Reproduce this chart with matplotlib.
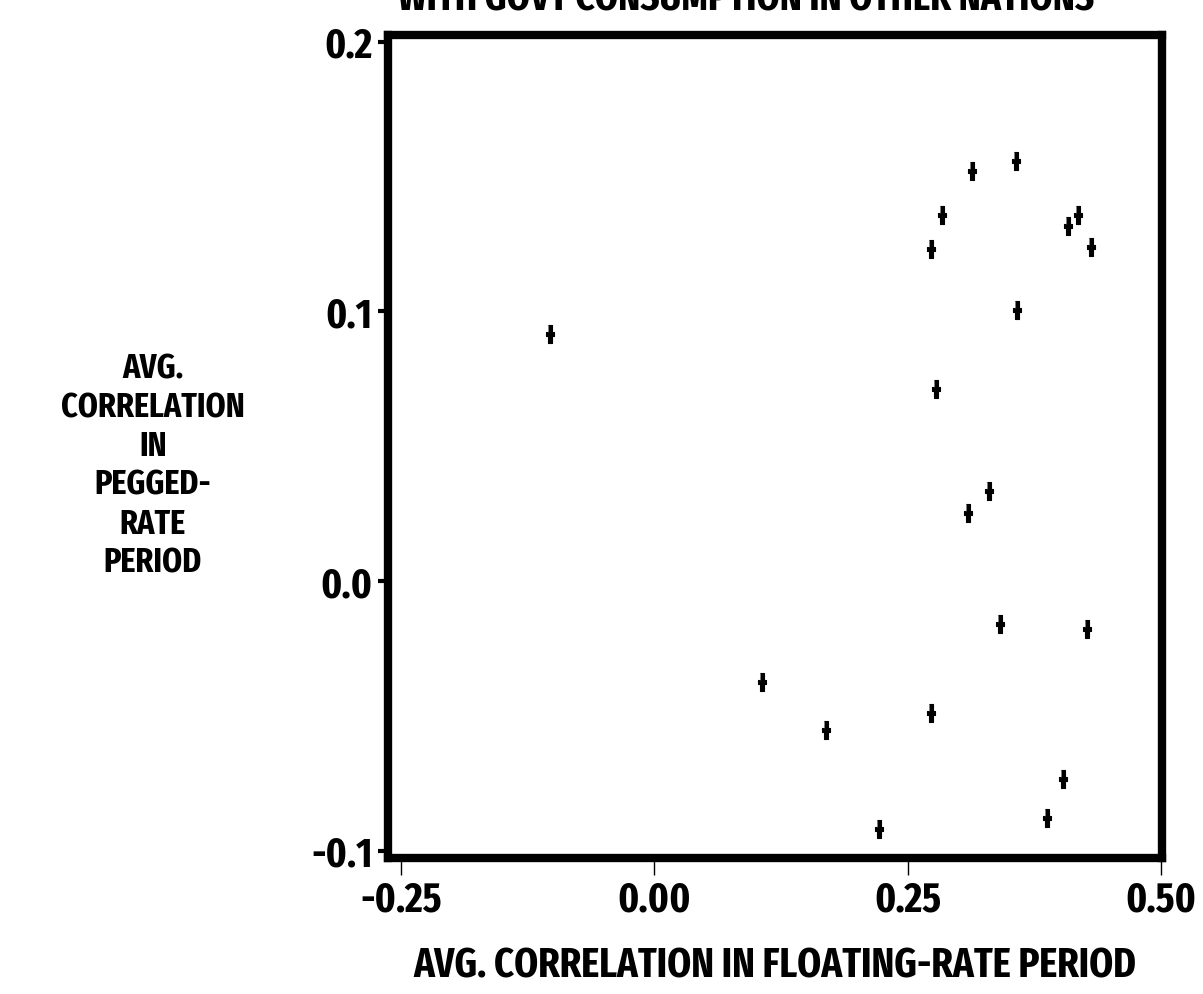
import numpy as np
import matplotlib
matplotlib.use("Agg")
import matplotlib.pyplot as plt

# Average correlations
float_corr = [-0.103, 0.106, 0.169, 0.222, 0.273, 0.273, 0.278, 0.284, 0.309, 0.313,
              0.330, 0.341, 0.357, 0.358, 0.387, 0.403, 0.408, 0.418, 0.427, 0.431]
pegged_corr = [0.0915, -0.0374, -0.0552, -0.0919, -0.0489, 0.1233, 0.0711, 0.1356, 0.0252, 0.1519,
               0.0333, -0.0159, 0.1556, 0.1004, -0.0878, -0.0733, 0.1315, 0.1359, -0.0178, 0.1237]

x_ticks = [-0.25, 0.0, 0.25, 0.50]
x_ticklabels = ['-0.25', '0.00', '0.25', '0.50']
y_ticks = [-0.1, 0.0, 0.1, 0.2]
y_ticklabels = ['-0.1', '0.0', '0.1', '0.2']

# narrow, heavy lettering like the old plotter font
font = ['Fira Sans Extra Condensed', 'DejaVu Sans']
plt.rcParams['font.family'] = font
plt.rcParams['font.weight'] = 'bold'
plt.rcParams['axes.labelweight'] = 'bold'

fig = plt.figure(figsize=(12.03, 9.94), dpi=100)
ax = fig.add_axes([0.3225, 0.137, 0.6435, 0.828])

# Tall plus-shaped marker like the plotter's glyph
w, h, t = 0.5, 1.0, 0.24
plus = [(-t, h), (t, h), (t, t), (w, t), (w, -t), (t, -t), (t, -h),
        (-t, -h), (-t, -t), (-w, -t), (-w, t), (-t, t)]
ax.scatter(float_corr, pegged_corr, marker=plus, s=150, color='black', linewidths=0.8)

ax.set_xlim(-0.263, 0.501)
ax.set_ylim(-0.1025, 0.2025)
ax.set_xticks(x_ticks)
ax.set_xticklabels(x_ticklabels)
ax.set_yticks(y_ticks)
ax.set_yticklabels(y_ticklabels)

for s in ax.spines.values():
    s.set_linewidth(6)
ax.tick_params(axis='x', direction='out', length=12, width=1, pad=4, labelsize=30)
ax.tick_params(axis='y', direction='out', length=7, width=3, pad=4, labelsize=30)

ax.set_xlabel('AVG. CORRELATION IN FLOATING-RATE PERIOD', fontsize=30, labelpad=18)

fig.text(0.127, 0.531, 'AVG.\nCORRELATION\nIN\nPEGGED-\nRATE\nPERIOD',
         ha='center', va='center', fontsize=25, linespacing=1.2)

# Title is cut off at the top edge of the scan
fig.text(0.62, 1.0, 'WITH GOVT CONSUMPTION IN OTHER NATIONS',
         ha='center', va='center', fontsize=29)

fig.savefig('out.png', dpi=100, facecolor='white')
plt.close(fig)
